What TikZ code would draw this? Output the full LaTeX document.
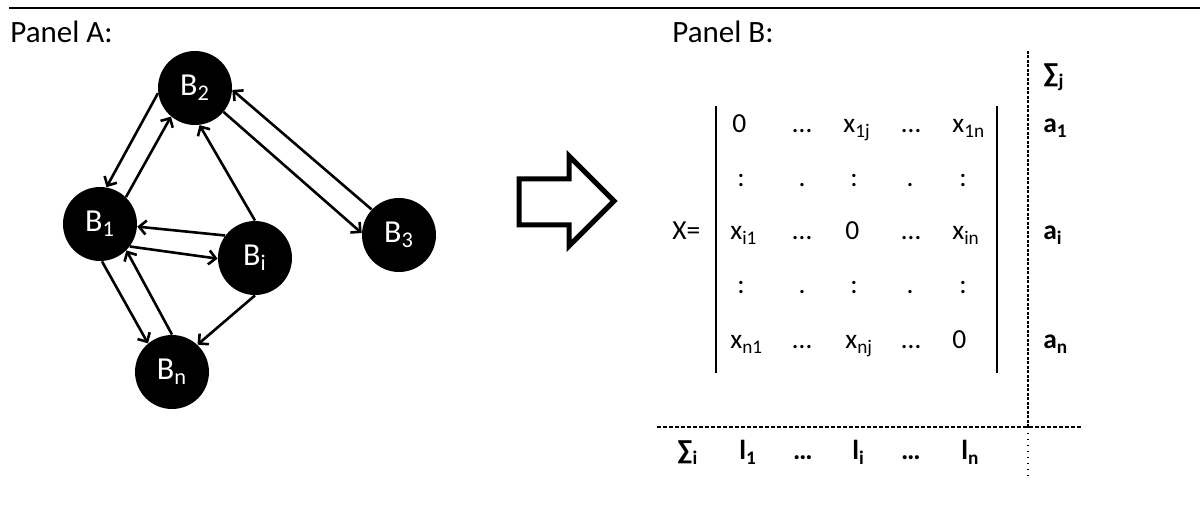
\documentclass[tikz,border=0pt]{standalone}
\usepackage{fontspec}
\setmainfont{Carlito}
\usepackage{tikz}
\usetikzlibrary{arrows.meta,shapes}

\begin{document}
\begin{tikzpicture}
[x=0.5pt,y=-0.5pt]
\tikzset{
	bank/.style = {circle, fill = black, minimum size = 37pt, inner sep = 0, text = white, font = \fontsize{16}{16}\selectfont},
	link/.style = {-{Straight Barb[length=3.5pt,width=7pt]}, line width = 1.3pt},
	panel/.style = {anchor = base west, inner sep = 0, font = \fontsize{15.5}{18}\selectfont},
	entry/.style = {anchor = base west, inner sep = 0, font = \fontsize{13.75}{16}\selectfont},
	dotentry/.style = {anchor = base, inner sep = 0, font = \fontsize{13.75}{16}\selectfont},
	total/.style = {anchor = base west, inner sep = 0, font = \fontsize{13.75}{16}\selectfont\bfseries}
}

\useasboundingbox (0,0) rectangle (1200,512);
\draw [line width = 1.1pt] (9,8) -- (1200,8);

\node (pa) [panel] at (10,43) {Panel A:};
\node (pb) [panel] at (672,43) {Panel B:};

% the banks
\node (B2) [bank] at (195,88) {B\textsubscript{2}};
\node (B1) [bank] at (100,224) {B\textsubscript{1}};
\node (Bi) [bank] at (255,258) {B\textsubscript{i}};
\node (B3) [bank] at (399,235) {B\textsubscript{3}};
\node (Bn) [bank] at (172,372) {B\textsubscript{n}};

\draw [link] (B2.188) -- (B1.80);
\draw [link] (B1.46) -- (B2.230);
\draw [link] (Bi.90) -- (B2.277);
\draw [link] (B2.320) -- (B3.177);
\draw [link] (B3.137) -- (B2.357);
\draw [link] (Bi.143) -- (B1.356);
\draw [link] (B1.323) -- (Bi.181);
\draw [link] (B1.273) -- (Bn.130);
\draw [link] (Bn.90) -- (B1.315);
\draw [link] (Bi.270) -- (Bn.47);

% big hollow arrow
\draw [line width = 2.5pt, line join = miter] (519,179) -- (569,179) -- (569,156) -- (614,201) -- (569,246) -- (569,225) -- (519,225) -- cycle;

% matrix
\node (X) [entry] at (672,240) {X=};
\draw [line width = 1.2pt] (716,106) -- (716,373);
\draw [line width = 1.2pt] (997,106) -- (997,373);

\node (m11) [entry] at (732,133) {0};
\node (m12) [dotentry] at (802,133) {…};
\node (m13) [entry] at (843,133) {x\textsubscript{1j}};
\node (m14) [dotentry] at (911,133) {…};
\node (m15) [entry] at (952,133) {x\textsubscript{1n}};

\node (m31) [entry] at (730,240) {x\textsubscript{i1}};
\node (m32) [dotentry] at (802,240) {…};
\node (m33) [entry] at (845,240) {0};
\node (m34) [dotentry] at (911,240) {…};
\node (m35) [entry] at (952,240) {x\textsubscript{in}};

\node (m51) [entry] at (730,349) {x\textsubscript{n1}};
\node (m52) [dotentry] at (802,349) {…};
\node (m53) [entry] at (845,349) {x\textsubscript{nj}};
\node (m54) [dotentry] at (911,349) {…};
\node (m55) [entry] at (952,349) {0};

\foreach \r/\y in {2/187,4/294}{
	\node (m\r1) [dotentry] at (741,\y) {:};
	\node (m\r2) [dotentry] at (802,\y) {.};
	\node (m\r3) [dotentry] at (854,\y) {:};
	\node (m\r4) [dotentry] at (910,\y) {.};
	\node (m\r5) [dotentry] at (963,\y) {:};
}

% sums
\draw [line width = 0.8pt, dash pattern = on 1.5pt off 0.75pt] (1028,51) -- (1028,427);
\draw [line width = 0.7pt, dash pattern = on 0.6pt off 2.4pt] (1028,427) -- (1028,480);
\draw [line width = 0.6pt, dash pattern = on 2pt off 1pt] (657,427) -- (1082,427);

\node (sj) [total] at (1043,83) {∑\textsubscript{j}};
\node (a1) [total] at (1043,133) {a\textsubscript{1}};
\node (ai) [total] at (1043,240) {a\textsubscript{i}};
\node (an) [total] at (1043,349) {a\textsubscript{n}};

\node (si) [total] at (677,460) {∑\textsubscript{i}};
\node (l1) [total] at (739,460) {l\textsubscript{1}};
\node (ld1) [total, anchor = base] at (803,460) {…};
\node (li) [total] at (852,460) {l\textsubscript{i}};
\node (ld2) [total, anchor = base] at (911,460) {…};
\node (ln) [total] at (961,460) {l\textsubscript{n}};

\end{tikzpicture}
\end{document}
